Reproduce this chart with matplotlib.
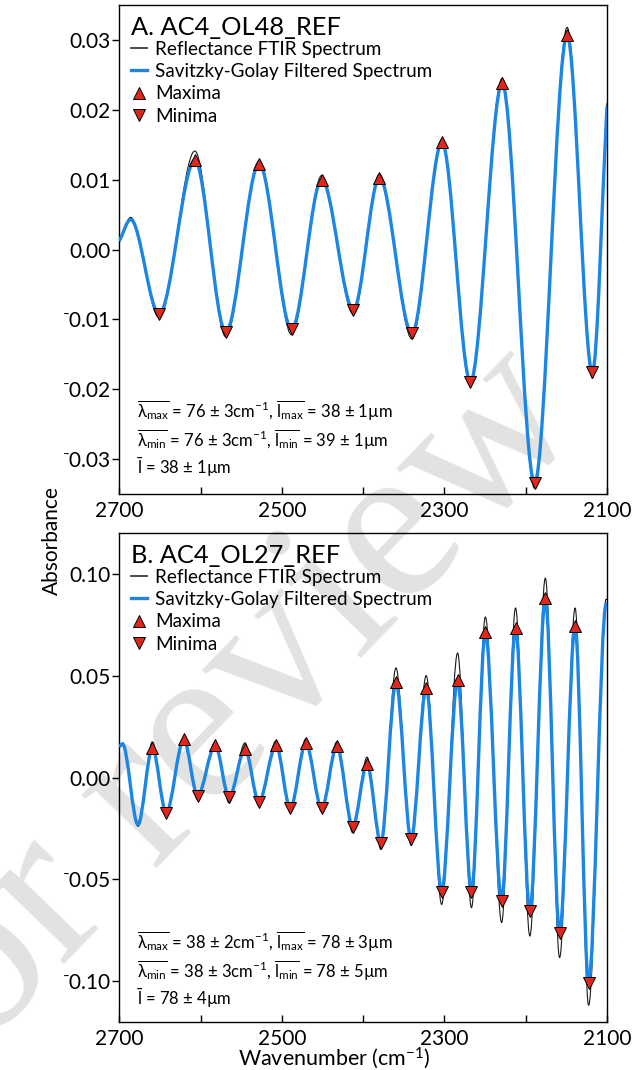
import numpy as np
import matplotlib
matplotlib.use("Agg")
import matplotlib.pyplot as plt
from matplotlib.path import Path
from matplotlib.patches import PathPatch
from matplotlib.lines import Line2D
from matplotlib.ticker import MultipleLocator, FuncFormatter

plt.rcParams['font.family'] = ['Lato', 'DejaVu Sans']
plt.rcParams['mathtext.fontset'] = 'custom'
plt.rcParams['mathtext.rm'] = 'Lato'
plt.rcParams['mathtext.it'] = 'Lato:italic'
plt.rcParams['mathtext.bf'] = 'Lato:bold'

# ---- Panel A: AC4_OL48_REF (turning points of the spectrum, ends included) ----
a_knot_x = [2700, 2686, 2651, 2607, 2569, 2528, 2488, 2451, 2412, 2380, 2340,
            2303, 2268, 2229, 2189, 2149, 2118, 2100]
a_filt_y = [0.0012, 0.0043, -0.0092, 0.0128, -0.0118, 0.0123, -0.0114, 0.0100,
            -0.0086, 0.0103, -0.0120, 0.0154, -0.0189, 0.0238, -0.0334, 0.0307,
            -0.0176, 0.0205]
a_raw_y = [0.0010, 0.0046, -0.0098, 0.0141, -0.0125, 0.0127, -0.0122, 0.0106,
           -0.0093, 0.0108, -0.0128, 0.0158, -0.0196, 0.0245, -0.0342, 0.0318,
           -0.0184, 0.0210]
a_max_x = [2607, 2528, 2451, 2380, 2303, 2229, 2149]
a_max_y = [0.0128, 0.0123, 0.0100, 0.0103, 0.0154, 0.0238, 0.0307]
a_min_x = [2651, 2569, 2488, 2412, 2340, 2268, 2189, 2118]
a_min_y = [-0.0092, -0.0118, -0.0114, -0.0086, -0.0120, -0.0189, -0.0334, -0.0176]
a_title = "A. AC4_OL48_REF"
a_stats = [r"$\overline{\mathregular{λ_{max}}}$ = 76 ± 3cm$^{-1}$, $\overline{\mathregular{l_{max}}}$ = 38 ± 1µm",
           r"$\overline{\mathregular{λ_{min}}}$ = 76 ± 3cm$^{-1}$, $\overline{\mathregular{l_{min}}}$ = 39 ± 1µm",
           r"$\bar{\mathregular{l}}$ = 38 ± 1µm"]

# ---- Panel B: AC4_OL27_REF ----
b_knot_x = [2700, 2696, 2677, 2659.3, 2642.3, 2620.7, 2603.6, 2582, 2564.9, 2545.4,
            2528.3, 2507.2, 2489.6, 2470.5, 2451, 2432.4, 2412.8, 2395.2, 2378.2,
            2359.6, 2341, 2322.4, 2303.4, 2283.8, 2266.7, 2249.6, 2229.6, 2212.5,
            2194.9, 2175.8, 2158.3, 2139.2, 2122.6, 2101, 2099]
b_filt_y = [0.0150, 0.0165, -0.0232, 0.0146, -0.0173, 0.0187, -0.0089, 0.0159,
            -0.0098, 0.0141, -0.0120, 0.0159, -0.0152, 0.0170, -0.0152, 0.0155,
            -0.0241, 0.0066, -0.0321, 0.0468, -0.0304, 0.0441, -0.0563, 0.0477,
            -0.0563, 0.0712, -0.0604, 0.0736, -0.0657, 0.0880, -0.0763, 0.0745,
            -0.1009, 0.0850, 0.0845]
b_raw_y = [0.0150, 0.0170, -0.0240, 0.0175, -0.0185, 0.0195, -0.0110, 0.0175,
           -0.0125, 0.0170, -0.0140, 0.0180, -0.0170, 0.0190, -0.0168, 0.0175,
           -0.0271, 0.0100, -0.0353, 0.0538, -0.0333, 0.0500, -0.0623, 0.0611,
           -0.0639, 0.0788, -0.0712, 0.0832, -0.0778, 0.0979, -0.0884, 0.0832,
           -0.1118, 0.0875, 0.0870]
b_max_x = [2659.3, 2620.7, 2582, 2545.4, 2507.2, 2470.5, 2432.4, 2395.2, 2359.6,
           2322.4, 2283.8, 2249.6, 2212.5, 2175.8, 2139.2]
b_max_y = [0.0146, 0.0187, 0.0159, 0.0141, 0.0159, 0.0170, 0.0155, 0.0066, 0.0468,
           0.0441, 0.0477, 0.0712, 0.0736, 0.0880, 0.0745]
b_min_x = [2642.3, 2603.6, 2564.9, 2528.3, 2489.6, 2451, 2412.8, 2378.2, 2341,
           2303.4, 2266.7, 2229.6, 2194.9, 2158.3, 2122.6]
b_min_y = [-0.0173, -0.0089, -0.0098, -0.0120, -0.0152, -0.0152, -0.0241, -0.0321,
           -0.0304, -0.0563, -0.0563, -0.0604, -0.0657, -0.0763, -0.1009]
b_title = "B. AC4_OL27_REF"
b_stats = [r"$\overline{\mathregular{λ_{max}}}$ = 38 ± 2cm$^{-1}$, $\overline{\mathregular{l_{max}}}$ = 78 ± 3µm",
           r"$\overline{\mathregular{λ_{min}}}$ = 38 ± 3cm$^{-1}$, $\overline{\mathregular{l_{min}}}$ = 78 ± 5µm",
           r"$\bar{\mathregular{l}}$ = 78 ± 4µm"]

legend_labels = ["Reflectance FTIR Spectrum", "Savitzky-Golay Filtered Spectrum",
                 "Maxima", "Minima"]
x_ticks = [2700, 2600, 2500, 2400, 2300, 2200, 2100]
x_ticklabels = ["2700", "", "2500", "", "2300", "", "2100"]

BLUE = "#1b86e3"
RAW = "#1a1a1a"
RED = "#e3261c"


def smooth_path(xs, ys):
    """Smooth curve through turning points: flat tangents at interior knots."""
    xs = np.asarray(xs, float)
    ys = np.asarray(ys, float)
    n = len(xs)
    slope = np.zeros(n)
    slope[0] = (ys[1] - ys[0]) / (xs[1] - xs[0])
    slope[-1] = (ys[-1] - ys[-2]) / (xs[-1] - xs[-2])
    verts = [(xs[0], ys[0])]
    codes = [Path.MOVETO]
    for i in range(n - 1):
        dx = xs[i + 1] - xs[i]
        verts += [(xs[i] + dx / 3, ys[i] + slope[i] * dx / 3),
                  (xs[i + 1] - dx / 3, ys[i + 1] - slope[i + 1] * dx / 3),
                  (xs[i + 1], ys[i + 1])]
        codes += [Path.CURVE4] * 3
    return Path(verts, codes)


def minus_fmt(v, pos):
    s = f"{v:.2f}"
    if s.startswith("-"):
        s = "\u207b" + s[1:] if abs(v) > 1e-9 else s[1:]
    return s


fig = plt.figure(figsize=(6.4, 10.7), dpi=100)
fig.patch.set_facecolor("white")

# faint diagonal watermark behind everything
fig.text(548 / 640, 1 - 385 / 1070, "For review", rotation=46,
         rotation_mode="anchor", ha="right", va="center", fontsize=165,
         color="#e2e2e2", family="Liberation Serif", zorder=-5)

ax_a = fig.add_axes([0.1864, 0.5383, 0.762, 0.457])
ax_b = fig.add_axes([0.1864, 0.04486, 0.762, 0.457])

panels = [
    (ax_a, a_knot_x, a_filt_y, a_raw_y, a_max_x, a_max_y, a_min_x, a_min_y,
     a_title, a_stats, (-0.035, 0.035), 0.01, [0.155, 0.097, 0.040]),
    (ax_b, b_knot_x, b_filt_y, b_raw_y, b_max_x, b_max_y, b_min_x, b_min_y,
     b_title, b_stats, (-0.12, 0.12), 0.05, [0.150, 0.090, 0.035]),
]

for (ax, kx, fy, ry, mxx, mxy, mnx, mny, title, stats, ylim, ystep, stat_y) in panels:
    ax.patch.set_alpha(0)
    ax.add_patch(PathPatch(smooth_path(kx, ry), fill=False, edgecolor=RAW,
                           lw=0.8, zorder=2))
    ax.add_patch(PathPatch(smooth_path(kx, fy), fill=False, edgecolor=BLUE,
                           lw=2.4, zorder=3, capstyle="butt"))
    ax.plot(mxx, mxy, ls="none", marker="^", ms=9, mfc=RED, mec="black",
            mew=0.7, zorder=4)
    ax.plot(mnx, mny, ls="none", marker="v", ms=9, mfc=RED, mec="black",
            mew=0.7, zorder=4)

    ax.set_xlim(2700, 2100)
    ax.set_ylim(*ylim)
    ax.set_xticks(x_ticks)
    ax.set_xticklabels(x_ticklabels)
    ax.yaxis.set_major_locator(MultipleLocator(ystep))
    ax.yaxis.set_major_formatter(FuncFormatter(minus_fmt))
    ax.tick_params(axis="x", direction="in", length=5, width=1, labelsize=15,
                   pad=5)
    ax.tick_params(axis="y", direction="out", length=5, width=1, labelsize=15,
                   pad=1)
    for sp in ax.spines.values():
        sp.set_linewidth(1.0)

    handles = [Line2D([], [], color="#4a4a4a", lw=1.4),
               Line2D([], [], color=BLUE, lw=2.4),
               Line2D([], [], ls="none", marker="^", ms=9, mfc=RED, mec="black", mew=0.7),
               Line2D([], [], ls="none", marker="v", ms=9, mfc=RED, mec="black", mew=0.7)]
    leg = ax.legend(handles, legend_labels, title=title, loc="upper left",
                    frameon=False, fontsize=13.6, title_fontsize=18.3,
                    alignment="left", handlelength=0.85, handletextpad=0.45,
                    labelspacing=0.28, borderaxespad=0.25, borderpad=0.35,
                    numpoints=1)
    leg._legend_box.sep = 1

    for s, yy in zip(stats, stat_y):
        ax.text(0.036, yy, s, transform=ax.transAxes, ha="left",
                va="baseline", fontsize=12)

fig.text(52 / 640, 0.495, "Absorbance", rotation=90, ha="center",
         va="center", fontsize=15)
fig.text(334 / 640, 1 - 1058 / 1070, "Wavenumber (cm$^{-1}$)", ha="center",
         va="center", fontsize=15.5)

fig.savefig("out.png", dpi=100)
